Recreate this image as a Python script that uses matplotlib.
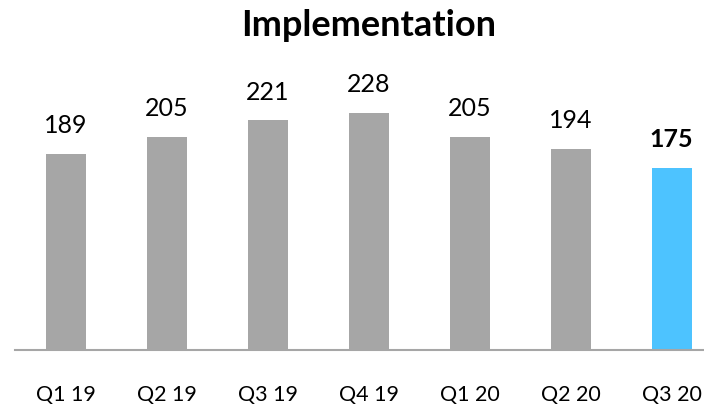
import matplotlib.pyplot as plt

plt.rcParams['font.family'] = ['Lato', 'DejaVu Sans']

quarters = ['Q1 19', 'Q2 19', 'Q3 19', 'Q4 19', 'Q1 20', 'Q2 20', 'Q3 20']
values = [189, 205, 221, 228, 205, 194, 175]

grey = '#a6a6a6'
blue = '#4dc3ff'
colors = [grey] * (len(values) - 1) + [blue]

fig = plt.figure(figsize=(7.04, 4.05), dpi=100)
ax = fig.add_axes([15 / 704, 55 / 405, 1 - 15 / 704, 270 / 405])

x = range(len(values))
bars = ax.bar(x, values, width=0.396, color=colors)

ax.set_xlim(-0.505, 6.32)
ax.set_ylim(0, 260)

# value labels above the bars, last one in bold
for i, (b, v) in enumerate(zip(bars, values)):
    ax.annotate(str(v), (b.get_x() + b.get_width() / 2, v),
                xytext=(0, 15), textcoords='offset points',
                ha='center', va='baseline', fontsize=18, color='black',
                fontweight='bold' if i == len(values) - 1 else 'normal')

ax.set_xticks(list(x))
ax.set_xticklabels(quarters, fontsize=15.5)
ax.tick_params(axis='x', length=0, pad=25.5)
ax.set_yticks([])

for s in ['top', 'right', 'left']:
    ax.spines[s].set_visible(False)
ax.spines['bottom'].set_color('#a6a6a6')
ax.spines['bottom'].set_linewidth(1.5)

fig.text(369 / 704, 1 - 26 / 405, 'Implementation', ha='center', va='center',
         fontsize=26, fontweight='bold')

fig.savefig('out.png', dpi=100)
